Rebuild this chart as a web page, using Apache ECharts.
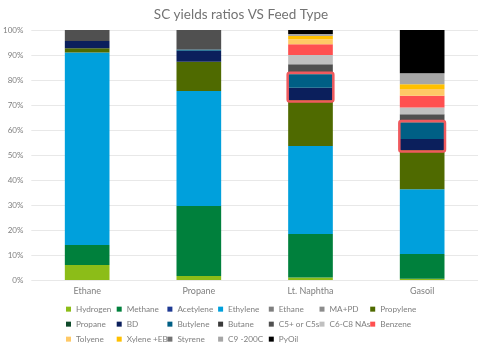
<!DOCTYPE html>
<html>
<head>
<meta charset="utf-8">
<script src="https://cdn.jsdelivr.net/npm/echarts@6/dist/echarts.min.js"></script>
<style>html,body{margin:0;padding:0;background:#fff}#c{width:482px;height:362px}</style>
</head>
<body>
<div id="c"></div>
<script>
var categories = ['Ethane', 'Propane', 'Lt. Naphtha', 'Gasoil'];
var seriesNames = ['Hydrogen','Methane','Acetylene','Ethylene','Ethane','MA+PD','Propylene','Propane','BD','Butylene','Butane','C5+ or C5s','C6-C8 NAs','Benzene','Tolyene','Xylene +EB','Styrene','C9 -200C','PyOil'];
var colors = ['#8cbd18','#00803c','#1f3a93','#00a0dc','#7f7f7f','#8c8c8c','#4f6a00','#0f4a2a','#0b1f5c','#005f85','#3a3a3a','#505050','#c0c0c0','#ff5050','#ffc966','#ffc000','#737373','#a6a6a6','#000000'];
var hydrogen  = [6, 1.6, 1, 0.5];
var methane   = [8, 28, 17.4, 9.9];
var acetylene = [0, 0, 0, 0];
var ethylene  = [77, 46, 35.2, 25.9];
var ethane    = [0, 0, 0, 0];
var mapd      = [0, 0, 0, 0];
var propylene = [1.7, 11.7, 18.4, 15.7];
var propane   = [0, 0, 0, 0];
var bd        = [2.9, 4.4, 4.9, 4.4];
var butylene  = [0, 0.5, 5.4, 6.6];
var butane    = [0, 0, 0, 0];
var c5plus    = [4.4, 7.8, 4, 3.3];
var c6c8      = [0, 0, 3.7, 2.7];
var benzene   = [0, 0, 4.3, 4.7];
var tolyene   = [0, 0, 2, 2.7];
var xylene    = [0, 0, 1.3, 1.9];
var styrene   = [0, 0, 0, 0];
var c9        = [0, 0, 0.8, 4.4];
var pyoil     = [0, 0, 1.6, 17.3];
var yTicks = [0,10,20,30,40,50,60,70,80,90,100];
var highlighted = [2, 3]; // categories whose BD+Butylene block is boxed

var values = [hydrogen, methane, acetylene, ethylene, ethane, mapd, propylene, propane, bd, butylene, butane, c5plus, c6c8, benzene, tolyene, xylene, styrene, c9, pyoil];

var series = seriesNames.map(function (n, i) {
  return {
    name: n, type: 'bar', stack: 'all', barWidth: '40%',
    itemStyle: { color: colors[i] },
    emphasis: { disabled: true },
    data: values[i]
  };
});

var bdIdx = seriesNames.indexOf('BD');
var boxData = highlighted.map(function (ci) {
  var low = 0;
  for (var k = 0; k < bdIdx; k++) low += values[k][ci];
  var high = low + bd[ci] + butylene[ci];
  return [ci, low, high];
});
series.push({
  type: 'custom', name: 'box', z: 10, silent: true,
  data: boxData,
  renderItem: function (params, api) {
    var ci = api.value(0);
    var p1 = api.coord([ci, api.value(2)]);
    var p0 = api.coord([ci, api.value(1)]);
    var bw = api.size([1, 0])[0] * 0.4;
    return {
      type: 'rect',
      shape: { x: p1[0] - bw / 2 - 0.5, y: p1[1] - 1.5, width: bw + 1, height: p0[1] - p1[1] + 3, r: 2 },
      style: { fill: 'none', stroke: '#ef5a5e', lineWidth: 2.5 }
    };
  }
});

// legend laid out as a 7-column grid: one vertical legend per column
var nCols = 7;
var legends = [];
for (var c = 0; c < nCols; c++) {
  var names = [];
  for (var r = c; r < seriesNames.length; r += nCols) names.push(seriesNames[r]);
  legends.push({
    data: names, orient: 'vertical', left: 66 + c * 50.7, top: 303.5,
    icon: 'rect', itemWidth: 5, itemHeight: 5, itemGap: 3.7,
    textStyle: { color: '#808080', fontFamily: 'Lato', fontSize: 8.2, lineHeight: 11.3 },
    selectedMode: false, padding: 0
  });
}

var chart = echarts.init(document.getElementById('c'));
chart.setOption({
  animation: false,
  title: {
    text: 'SC yields ratios VS Feed Type', left: 'center', top: 3,
    textStyle: { fontFamily: 'Lato', fontSize: 13.5, fontWeight: 'normal', color: '#737373' }
  },
  grid: { left: 28, right: 4, top: 30, bottom: 82 },
  xAxis: {
    type: 'category', data: categories,
    axisLine: { show: false }, axisTick: { show: false },
    axisLabel: { color: '#7f7f7f', fontFamily: 'Lato', fontSize: 9, margin: 7 }
  },
  yAxis: {
    type: 'value', min: 0, max: 100, interval: 10,
    axisLabel: { formatter: '{value}%', color: '#7f7f7f', fontFamily: 'Lato', fontSize: 8, margin: 8 },
    splitLine: { lineStyle: { color: '#e8e8e8', width: 1 } },
    axisLine: { show: false }, axisTick: { show: false }
  },
  legend: legends,
  series: series
});
</script>
</body>
</html>
